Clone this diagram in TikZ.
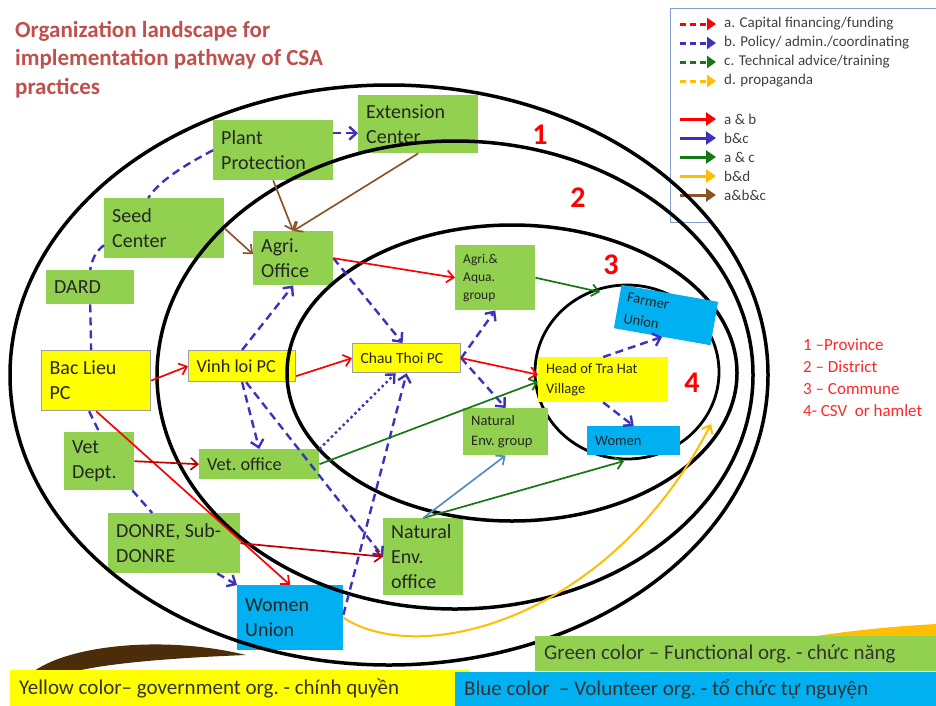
\documentclass[tikz,border=0pt]{standalone}
\usepackage{fontspec}
\setmainfont{Carlito}
\usetikzlibrary{arrows.meta}
\usetikzlibrary{calc}
\usetikzlibrary{positioning}
\definecolor{fgreen}{RGB}{146,208,80}
\definecolor{gyellow}{RGB}{255,255,0}
\definecolor{vblue}{RGB}{0,176,240}
\definecolor{ared}{RGB}{255,0,0}
\definecolor{dred}{RGB}{192,0,0}
\definecolor{bpol}{RGB}{60,50,190}
\definecolor{cgreen}{RGB}{20,120,20}
\definecolor{dgold}{RGB}{255,190,0}
\definecolor{abcbrown}{RGB}{140,85,40}
\definecolor{sblue}{RGB}{85,140,200}
\definecolor{ttlred}{RGB}{192,80,77}
\definecolor{lvlred}{RGB}{255,40,40}
\definecolor{txtgray}{RGB}{64,64,64}
\definecolor{legline}{RGB}{130,160,205}
\definecolor{swbrown}{RGB}{75,45,10}

\tikzset{
  natspace/.style={execute at begin node={\spaceskip=0pt\xspaceskip=0pt\frenchspacing}},
  org/.style={rectangle, anchor=north west, inner xsep=8pt, inner ysep=0pt, align=left, text=black!85, natspace},
  fun/.style={org, fill=fgreen},
  gov/.style={org, fill=gyellow, draw=gray!75, line width=1.2pt},
  vol/.style={org, fill=vblue},
  boxsize/.style 2 args={text width=#1, minimum height=#2},
  big/.style={font=\fontsize{20}{25}\selectfont},
  mid/.style={font=\fontsize{18.3}{22}\selectfont},
  pcfont/.style={font=\fontsize{15.5}{19}\selectfont},
  small/.style={font=\fontsize{14.5}{19.5}\selectfont},
  tiny/.style={font=\fontsize{13.5}{18}\selectfont},
  ring/.style={line width=3.5pt},
  policy/.style={draw=bpol, line width=2.4pt, dash pattern=on 8pt off 5pt, -{Straight Barb[length=7pt,width=13pt]}},
  policyline/.style={draw=bpol, line width=2.4pt, dash pattern=on 8pt off 5pt},
  policydot/.style={draw=bpol, line width=2.4pt, dash pattern=on 2.5pt off 3pt, -{Straight Barb[length=7pt,width=13pt]}},
  ab/.style={draw=ared, line width=1.7pt, -{Straight Barb[length=7pt,width=12pt]}},
  abdark/.style={ab, draw=dred},
  ac/.style={draw=cgreen, line width=1.7pt, -{Straight Barb[length=7pt,width=12pt]}},
  abc/.style={draw=abcbrown, line width=1.7pt, -{Straight Barb[length=7pt,width=12pt]}},
  bd/.style={draw=dgold, line width=2pt, -{Straight Barb[length=7pt,width=12pt]}},
  linkblue/.style={draw=sblue, line width=1.7pt, -{Straight Barb[length=7pt,width=12pt]}},
  legdash/.style={line width=3pt, dash pattern=on 6pt off 4pt, -{Triangle[length=9pt,width=12pt]}},
  legsolid/.style={line width=3pt, -{Triangle[length=10pt,width=13pt]}},
  legtxt/.style={anchor=west, inner sep=0pt, text=txtgray, font=\fontsize{15}{18}\selectfont},
  lvlnum/.style={text=ared, font=\fontsize{30}{30}\selectfont\bfseries},
  keybox/.style={anchor=north west, inner xsep=9pt, align=left, natspace, text=black!80, font=\fontsize{21}{24}\selectfont}
}

\begin{document}
\begin{tikzpicture}[x=1pt,y=-1pt]
\useasboundingbox (0,0) rectangle (936,705);

% background swooshes
\fill[swbrown] (28,676) .. controls (60,646) and (160,634) .. (246,655) .. controls (170,658) and (90,664) .. (60,676) -- cycle;
\fill[dgold] (790,640) .. controls (850,630) and (900,626) .. (936,624) -- (936,640) -- cycle;

% level 4
\draw[line width=2.8pt] (627,372) ellipse [x radius=92, y radius=87];

% legend
\draw[legline, line width=0.8pt] (710,222) -- (670,222) -- (670,8) -- (936,8);
\foreach \col/\txt [count=\i] in {ared/{a. Capital financing/funding}, bpol/{b. Policy/ admin./coordinating}, cgreen/{c. Technical advice/training}, dgold/{d. propaganda}}{
  \draw[legdash, \col] (680,{5+19*\i}) -- (716,{5+19*\i});
  \node[legtxt] (lega\i) at (724,{5+19*\i}) {\txt};
}
\foreach \col/\txt [count=\i] in {ared/{a \& b}, bpol/{b\&c}, cgreen/{a \& c}, dgold/{b\&d}, abcbrown/{a\&b\&c}}{
  \draw[legsolid, \col] (680,{100+19*\i}) -- (716,{100+19*\i});
  \node[legtxt] (legb\i) at (724,{100+19*\i}) {\txt};
}

\node[anchor=north west, inner sep=0pt, align=left, natspace, text=ttlred, font=\fontsize{23}{28.5}\selectfont\bfseries] (title) at (15,21)
  {Organization landscape for\\implementation pathway of CSA\\practices};
\node[anchor=north west, inner sep=0pt, align=left, natspace, text=lvlred, font=\fontsize{17}{22}\selectfont] (levels) at (803,339)
  {1 –Province\\2 – District\\3 – Commune\\4- CSV\ \ or hamlet};
\node[lvlnum] (n1) at (540,135) {1};
\node[lvlnum] (n2) at (578,198) {2};
\node[lvlnum] (n3) at (611,265) {3};
\node[lvlnum] (n4) at (692,383) {4};

% organisations
\node[fun, big, boxsize={104pt}{58pt}] (ext) at (358,95) {Extension\\Center};
\node[fun, big, boxsize={104pt}{60pt}] (pp) at (213,120) {Plant\\Protection};
\node[fun, big, boxsize={104pt}{60pt}] (seed) at (104,198) {Seed\\Center};
\node[fun, big, boxsize={72pt}{34pt}] (dard) at (46,270) {DARD};
\node[fun, big, boxsize={64pt}{54pt}] (agri) at (253,231) {Agri.\\Office};
\node[fun, tiny, boxsize={64pt}{65pt}] (aqua) at (455,245) {Agri.\&\\Aqua.\\group};
\node[gov, pcfont, boxsize={92pt}{29pt}] (chau) at (352,343) {Chau Thoi PC};
\node[org, fill=gyellow, small, boxsize={114pt}{45pt}] (head) at (538,357) {Head of Tra Hat\\Village};
\node[vol, small, boxsize={77pt}{29pt}] (women) at (587,426) {Women};
\node[fun, small, boxsize={69pt}{47pt}] (neg) at (463,408) {Natural\\Env. group};
\node[gov, big, boxsize={93pt}{60pt}] (bac) at (41,350) {Bac Lieu\\PC};
\node[gov, mid, boxsize={91pt}{31pt}] (vinh) at (188,350) {Vinh loi PC};
\node[fun, big, boxsize={54pt}{58pt}] (vetd) at (64,432) {Vet\\Dept.};
\node[fun, mid, boxsize={104pt}{30pt}] (veto) at (199,449) {Vet. office};
\node[fun, big, boxsize={116pt}{60pt}] (donre) at (108,513) {DONRE, Sub-\\DONRE};
\node[fun, big, boxsize={64pt}{77pt}] (neo) at (383,518) {Natural\\Env.\\office};
\node[vol, big, boxsize={90pt}{65pt}] (wu) at (237,585) {Women\\Union};

% levels 1-3
\draw[ring] (389,375) ellipse [x radius=379, y radius=290];
\draw[ring] (455,375) ellipse [x radius=298, y radius=234];
\draw[ring] (512,373) ellipse [x radius=225, y radius=148];

\node[vol, font=\fontsize{14.5}{21.5}\selectfont, boxsize={82pt}{44pt}, anchor=center, rotate=-10] (farmer) at (666,315) {Farmer\\Union};

\coordinate (c4n) at (600,292);
\coordinate (c4s) at (624,461);
\coordinate (c4e) at (711,424);

% policy chain
\draw[policyline] (pp.west) .. controls (185,165) and (160,180) .. ([xshift=-16pt]seed.north);
\draw[policyline] ([yshift=-17pt]seed.west) .. controls (95,252) and (92,260) .. (dard.north);
\draw[policyline] (dard.south) -- ([xshift=-5pt]bac.north);
\draw[policyline] ([xshift=-7pt]bac.south) -- (vetd.north);
\draw[policyline] ([xshift=-2pt]vetd.south east) -- ([xshift=-22pt]donre.north);
\draw[policy] ([xshift=43pt]donre.south) -- (wu.north west);

% connectors
\draw[policy] ([yshift=17pt]pp.east) -- ([yshift=-9pt]ext.west);
\draw[policy] (vinh.north) -- (agri.south);
\draw[policy] (vinh.south) -- (veto.north);
\draw[policy] ([xshift=4pt]vinh.south) -- (neo.west);
\draw[policy] (agri.east) -- ([xshift=-4pt]chau.north);
\draw[policy] (chau.east) -- (aqua.south);
\draw[policy] (chau.east) -- (neg.north);
\draw[policy] ([yshift=3pt]wu.east) -- (chau.south);
\draw[policydot] (veto.north east) -- ([xshift=-11pt]chau.south);
\draw[policy] (head.north) -- (farmer.south);
\draw[policy] (head.south) -- (women.north);

\draw[ab] (bac.east) -- (vinh.west);
\draw[ab] ([yshift=-10pt]vinh.east) -- (chau.west);
\draw[ab] (chau.east) -- ([yshift=5pt]head.west);
\draw[ab] (agri.east) -- (aqua.west);
\draw[ab] (bac.south) -- (wu.north);
\draw[abdark] (vetd.east) -- (veto.west);
\draw[abdark] (donre.east) -- (neo.west);

\draw[ac] (aqua.east) -- (c4n);
\draw[ac] (veto.east) -- ([yshift=-2pt]head.west);
\draw[ac] (neo.north) -- (c4s);
\draw[linkblue] (neo.north) -- (neg.south);

\draw[abc] (pp.south) -- (agri.north);
\draw[abc] (ext.south) -- (agri.north);
\draw[abc] (seed.east) -- ([yshift=4pt]agri.west);

\draw[bd] (wu.east) .. controls (420,668) and (610,620) .. (c4e);

% colour key
\node[keybox, fill=fgreen, text width=383pt, minimum height=35pt] (keyfun) at (535,636) {Green color – Functional org. - chức năng};
\node[keybox, fill=gyellow, text width=442pt, minimum height=36pt] (keygov) at (10,670) {Yellow color– government org. - chính quyền};
\node[keybox, fill=vblue, text width=463pt, minimum height=34pt] (keyvol) at (455,672) {Blue color\ \ – Volunteer org. - tổ chức tự nguyện};
\end{tikzpicture}
\end{document}
